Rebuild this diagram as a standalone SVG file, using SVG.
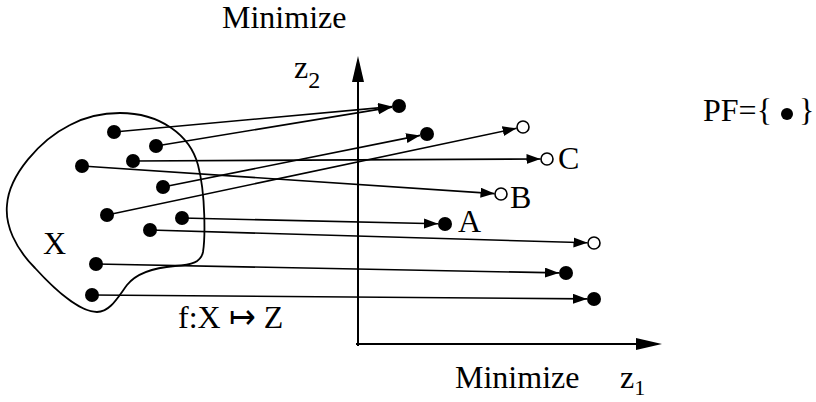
<svg xmlns="http://www.w3.org/2000/svg" width="816" height="402" viewBox="0 0 816 402">
<style>
.t{font-family:'Liberation Serif','Times New Roman',serif;font-size:32px;fill:#000}
.conn line{stroke:#000;stroke-width:1.6;marker-end:url(#ah)}
.dot{fill:#000}
.open{fill:#fff;stroke:#000;stroke-width:1.6}
.axis{stroke:#000;stroke-width:2}
</style>
<defs>
<marker id="ah" markerUnits="userSpaceOnUse" markerWidth="16" markerHeight="12" refX="14" refY="5" orient="auto">
<path d="M0,0 L14,5 L0,10 Z" fill="#000"/>
</marker>
</defs>
<rect width="816" height="402" fill="#fff"/>
<g id="axes">
<line class="axis" x1="358" y1="346" x2="358" y2="78"/>
<path d="M358,56 L352,82 L364,82 Z" fill="#000"/>
<line class="axis" x1="356" y1="344" x2="640" y2="344"/>
<path d="M662,344 L636,338 L636,350 Z" fill="#000"/>
</g>
<g id="setX">
<path d="M120,113 C160,113 190,135 198,165 C206,195 205,240 203,252 C201,262 192,265 175,266 C150,268 135,275 127,285 C118,297 110,312 97,312 C80,312 55,290 35,268 C15,248 5,225 7,205 C9,175 40,140 70,125 C85,117 100,113 120,113 Z" fill="none" stroke="#000" stroke-width="1.8"/>
<text class="t" x="43" y="254">X</text>
</g>
<g class="conn" id="connectors">
<line x1="114" y1="132" x2="392" y2="106.6"/>
<line x1="156" y1="146" x2="392.1" y2="107.1"/>
<line x1="163" y1="187" x2="420.1" y2="135.4"/>
<line x1="107" y1="215" x2="516.6" y2="128.3"/>
<line x1="133" y1="161" x2="540.5" y2="159"/>
<line x1="82" y1="166" x2="494.5" y2="193.6"/>
<line x1="182" y1="218" x2="438" y2="223.8"/>
<line x1="150" y1="230" x2="587.5" y2="242.8"/>
<line x1="96" y1="264" x2="559" y2="272.9"/>
<line x1="92" y1="295" x2="587" y2="298.9"/>
</g>
<g id="left-points">
<circle class="dot" cx="114" cy="132" r="7"/>
<circle class="dot" cx="156" cy="146" r="7"/>
<circle class="dot" cx="82" cy="166" r="7"/>
<circle class="dot" cx="133" cy="161" r="7"/>
<circle class="dot" cx="163" cy="187" r="7"/>
<circle class="dot" cx="107" cy="215" r="7"/>
<circle class="dot" cx="182" cy="218" r="7"/>
<circle class="dot" cx="150" cy="230" r="7"/>
<circle class="dot" cx="96" cy="264" r="7"/>
<circle class="dot" cx="92" cy="295" r="7"/>
</g>
<g id="right-points">
<circle class="dot" cx="399" cy="106" r="7"/>
<circle class="dot" cx="427" cy="134" r="7"/>
<circle class="open" cx="523" cy="127" r="6"/>
<g id="C"><circle class="open" cx="547" cy="159" r="6"/><text class="t" x="558" y="169">C</text></g>
<g id="B"><circle class="open" cx="501" cy="194" r="6"/><text class="t" x="510" y="208">B</text></g>
<g id="A"><circle class="dot" cx="445" cy="224" r="7"/><text class="t" x="458" y="232">A</text></g>
<circle class="open" cx="594" cy="243" r="6"/>
<circle class="dot" cx="566" cy="273" r="7"/>
<circle class="dot" cx="594" cy="299" r="7"/>
</g>
<g id="labels">
<text class="t" x="222" y="28">Minimize</text>
<text class="t" x="455" y="388">Minimize</text>
<text class="t" x="294" y="78">z<tspan font-size="24" dy="10">2</tspan></text>
<text class="t" x="620" y="388">z<tspan font-size="22" dy="7">1</tspan></text>
<text class="t" x="178" y="328">f:X ↦ Z</text>
<g id="PF"><text class="t" x="703" y="121">PF={</text><circle class="dot" cx="787" cy="114" r="6"/><text class="t" x="799" y="121">}</text></g>
</g>
</svg>
